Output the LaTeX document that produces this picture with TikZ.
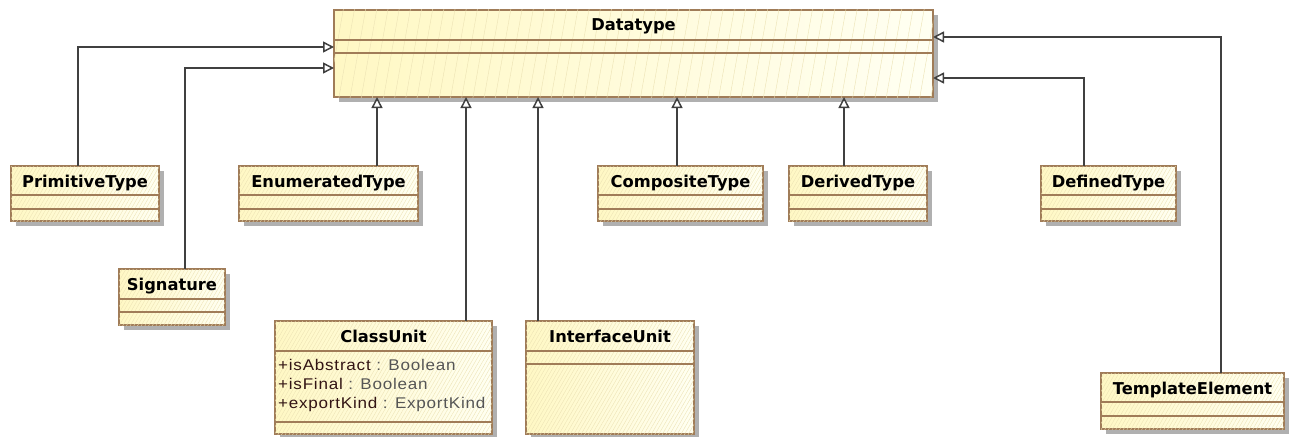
\documentclass[tikz,border=0pt]{standalone}
\usepackage{fontspec}
\setmainfont{Liberation Sans}
\newfontfamily\titlefont{DejaVu Sans}
\newfontfamily\attrfont{Liberation Sans}[FakeStretch=1.1,LetterSpace=5]
\usetikzlibrary{arrows.meta,patterns.meta,calc}
\definecolor{ylwA}{RGB}{255,248,196}
\definecolor{ylwB}{RGB}{255,255,242}
\definecolor{brd}{RGB}{160,124,88}
\definecolor{hatch}{RGB}{236,226,180}
\definecolor{shd}{RGB}{176,176,176}
\definecolor{conn}{RGB}{64,64,64}
\definecolor{attrname}{RGB}{50,20,20}
\definecolor{attrtype}{RGB}{85,85,85}
\tikzset{
  basebox/.style={draw=brd, line width=1.6pt, outer sep=0pt, inner sep=0pt,
    left color=ylwA, right color=ylwB,
    preaction={fill=shd, transform canvas={xshift=5pt,yshift=-5pt}}},
  clsbox/.style={basebox,
    postaction={pattern={Lines[angle=60,distance=3.2pt,line width=0.35pt]}, pattern color=hatch}},
  bigbox/.style={basebox,
    postaction={pattern={Lines[angle=80,distance=11pt,line width=0.4pt]}, pattern color=hatch}},
  sepline/.style={draw=brd, line width=1.6pt},
  clstitle/.style={inner sep=0pt, font=\titlefont\bfseries\fontsize{16.3}{20}\selectfont},
  attrs/.style={inner sep=0pt, font=\attrfont\fontsize{15.5}{19}\selectfont},
  inh/.style={draw=conn, line width=1.5pt,
    -{Triangle[open, length=11pt, width=11pt, fill=white]}},
}
% #1 name, #2 left, #3 top, #4 width, #5 title h, #6 attr h, #7 ops h, #8 title text, #9 box style
\newcommand\umlbox[9]{%
  \pgfmathsetmacro\umltoth{#5+#6+#7}%
  \pgfmathsetmacro\umlsepb{#5+#6}%
  \node[#9, minimum width=#4pt, minimum height=\umltoth pt, anchor=north west] (#1) at (#2,#3) {};
  \draw[sepline] ([yshift=-#5pt]#1.north west) -- ([yshift=-#5pt]#1.north east);
  \draw[sepline] ([yshift=-\umlsepb pt]#1.north west) -- ([yshift=-\umlsepb pt]#1.north east);
  \node[clstitle, anchor=base] (#1-t) at ([yshift=-21pt]#1.north) {#8};
}
\begin{document}
\begin{tikzpicture}[x=1pt,y=-1pt]
\useasboundingbox (0,0) rectangle (1289,436);

\umlbox{dt}{334}{10}{599}{30}{13}{44}{Datatype}{bigbox}
\umlbox{prim}{11}{166}{148}{29}{14}{12}{PrimitiveType}{clsbox}
\umlbox{enum}{239}{166}{179}{29}{14}{12}{EnumeratedType}{clsbox}
\umlbox{comp}{598}{166}{165}{29}{14}{12}{CompositeType}{clsbox}
\umlbox{der}{789}{166}{138}{29}{14}{12}{DerivedType}{clsbox}
\umlbox{def}{1041}{166}{135}{29}{14}{12}{DefinedType}{clsbox}
\umlbox{sig}{119}{269}{106}{30}{13}{13}{Signature}{clsbox}
\umlbox{cls}{275}{321}{217}{30}{71}{12}{ClassUnit}{clsbox}
\umlbox{intf}{526}{321}{168}{30}{13}{70}{InterfaceUnit}{clsbox}
\umlbox{tmpl}{1101}{373}{183}{29}{14}{13}{TemplateElement}{clsbox}

\node[attrs, anchor=base west] (cls-a1) at ([xshift=3pt,yshift=-49pt]cls.north west)
  {\textcolor{attrname}{+isAbstract} \textcolor{attrtype}{: Boolean}};
\node[attrs, anchor=base west] (cls-a2) at ([xshift=3pt,yshift=-68pt]cls.north west)
  {\textcolor{attrname}{+isFinal} \textcolor{attrtype}{: Boolean}};
\node[attrs, anchor=base west] (cls-a3) at ([xshift=3pt,yshift=-87pt]cls.north west)
  {\textcolor{attrname}{+exportKind} \textcolor{attrtype}{: ExportKind}};

% left side generalizations
\draw[inh] ([xshift=67pt]prim.north west) |- ([yshift=-37pt]dt.north west);
\draw[inh] ([xshift=66pt]sig.north west) |- ([yshift=-58pt]dt.north west);
% right side
\draw[inh] ([xshift=43pt]def.north west) |- ([yshift=-68pt]dt.north east);
\draw[inh] ([xshift=120pt]tmpl.north west) |- ([yshift=-27pt]dt.north east);
% bottom
\draw[inh] ([xshift=138pt]enum.north west) -- ([xshift=138pt]enum.north west |- dt.south);
\draw[inh] ([xshift=191pt]cls.north west) -- ([xshift=191pt]cls.north west |- dt.south);
\draw[inh] ([xshift=12pt]intf.north west) -- ([xshift=12pt]intf.north west |- dt.south);
\draw[inh] ([xshift=79pt]comp.north west) -- ([xshift=79pt]comp.north west |- dt.south);
\draw[inh] ([xshift=55pt]der.north west) -- ([xshift=55pt]der.north west |- dt.south);
\end{tikzpicture}
\end{document}
